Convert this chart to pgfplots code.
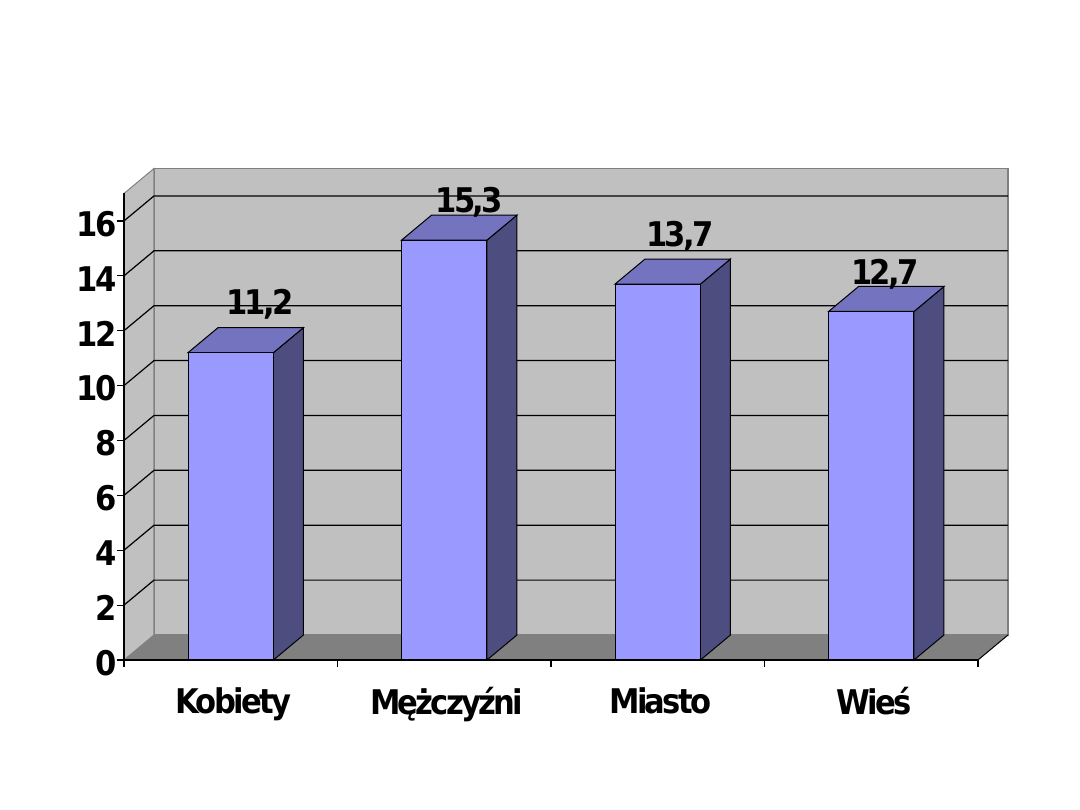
\documentclass[border=0pt]{standalone}
\usepackage{fontspec}
\setmainfont{DejaVu Sans Condensed}[BoldFont={DejaVu Sans Condensed Bold}]
\newfontfamily\chartfont{DejaVu Sans Condensed Bold}[LetterSpace=-8]
\usepackage{pgfplots}
\pgfplotsset{compat=1.18}

\definecolor{barfront}{HTML}{9999FF}
\definecolor{bartop}{HTML}{7373BF}
\definecolor{barside}{HTML}{4D4D80}
\definecolor{wall}{HTML}{C0C0C0}
\definecolor{floorgray}{HTML}{808080}

\begin{document}
\begin{tikzpicture}
\begin{axis}[
    at={(0pt,0pt)}, anchor=south west,
    scale only axis, width=854pt, height=466.5pt,
    xmin=0, xmax=4, ymin=0, ymax=17,
    clip=false,
    axis on top,
    axis x line*=bottom, axis y line*=left,
    axis line style={black, line width=1.2pt, -},
    xtick={0,1,2,3,4},
    xticklabels={},
    extra x ticks={0.5,1.5,2.5,3.5},
    extra x tick labels={Kobiety,Mężczyźni,Miasto,Wieś},
    extra x tick style={major tick length=0pt, tick style={draw=none},
        xticklabel style={yshift=-24pt, xshift=2.5pt}},
    ytick={0,2,...,16},
    tick style={black, line width=1.2pt},
    major tick length=7pt,
    tick align=outside,
    tick label style={font=\chartfont\fontsize{34}{34}\selectfont, text=black},
    /pgf/number format/assume math mode=true,
    yticklabel style={xshift=3pt, yshift=-3pt},
]
% walls and floor
\addplot[fill=wall, draw=floorgray, line width=1.5pt] coordinates {(0.1405,0.911) (4.1405,0.911) (4.1405,17.911) (0.1405,17.911)} -- cycle;
\addplot[fill=wall, draw=floorgray, line width=1pt] coordinates {(0,0) (0.1405,0.911) (0.1405,17.911) (0,17)} -- cycle;
\addplot[fill=floorgray, draw=none] coordinates {(0,0) (4,0) (4.1405,0.911) (0.1405,0.911)} -- cycle;
\addplot[black, line width=1pt] coordinates {(4,0) (4.1405,0.911)};
% gridlines
\addplot[black, line width=1.2pt, unbounded coords=jump] coordinates {
    (0,2) (0.1405,2.911) (4.1405,2.911) (4.1405,nan)
    (0,4) (0.1405,4.911) (4.1405,4.911) (4.1405,nan)
    (0,6) (0.1405,6.911) (4.1405,6.911) (4.1405,nan)
    (0,8) (0.1405,8.911) (4.1405,8.911) (4.1405,nan)
    (0,10) (0.1405,10.911) (4.1405,10.911) (4.1405,nan)
    (0,12) (0.1405,12.911) (4.1405,12.911) (4.1405,nan)
    (0,14) (0.1405,14.911) (4.1405,14.911) (4.1405,nan)
    (0,16) (0.1405,16.911) (4.1405,16.911)
};
% side faces
\addplot[fill=barside, draw=black, line width=1pt] coordinates {(0.7,0) (0.8405,0.911) (0.8405,12.111) (0.7,11.2)} -- cycle;
\addplot[fill=barside, draw=black, line width=1pt] coordinates {(1.7,0) (1.8405,0.911) (1.8405,16.211) (1.7,15.3)} -- cycle;
\addplot[fill=barside, draw=black, line width=1pt] coordinates {(2.7,0) (2.8405,0.911) (2.8405,14.611) (2.7,13.7)} -- cycle;
\addplot[fill=barside, draw=black, line width=1pt] coordinates {(3.7,0) (3.8405,0.911) (3.8405,13.611) (3.7,12.7)} -- cycle;
% top faces
\addplot[fill=bartop, draw=black, line width=1pt] coordinates {(0.3,11.2) (0.7,11.2) (0.8405,12.111) (0.4405,12.111)} -- cycle;
\addplot[fill=bartop, draw=black, line width=1pt] coordinates {(1.3,15.3) (1.7,15.3) (1.8405,16.211) (1.4405,16.211)} -- cycle;
\addplot[fill=bartop, draw=black, line width=1pt] coordinates {(2.3,13.7) (2.7,13.7) (2.8405,14.611) (2.4405,14.611)} -- cycle;
\addplot[fill=bartop, draw=black, line width=1pt] coordinates {(3.3,12.7) (3.7,12.7) (3.8405,13.611) (3.4405,13.611)} -- cycle;
% front faces
\addplot[ybar, bar width=85.4pt, fill=barfront, draw=black, line width=1pt] coordinates {(0.5,11.2) (1.5,15.3) (2.5,13.7) (3.5,12.7)};
% value labels
\node[font=\chartfont\fontsize{34}{34}\selectfont] at (axis cs:0.636,12.95) {11,2};
\node[font=\chartfont\fontsize{34}{34}\selectfont] at (axis cs:1.617,16.67) {15,3};
\node[font=\chartfont\fontsize{34}{34}\selectfont] at (axis cs:2.604,15.45) {13,7};
\node[font=\chartfont\fontsize{34}{34}\selectfont] at (axis cs:3.564,14.07) {12,7};
\end{axis}
\pgfresetboundingbox
\path[use as bounding box] (-124pt,-150pt) rectangle (956pt,660pt);
\end{tikzpicture}
\end{document}
